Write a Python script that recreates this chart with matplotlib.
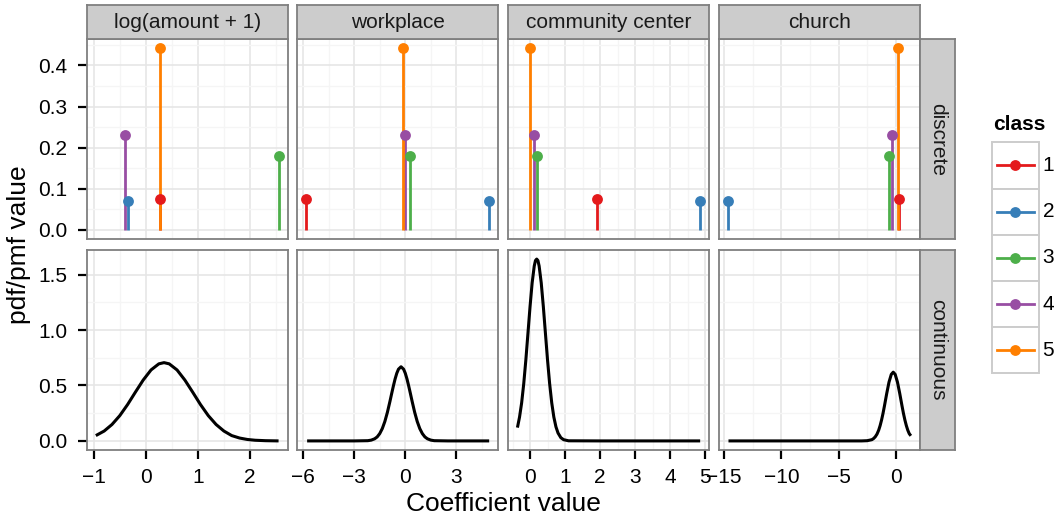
import numpy as np
import matplotlib.pyplot as plt
from matplotlib.patches import Rectangle
from matplotlib.lines import Line2D
from matplotlib.ticker import FixedLocator

plt.rcParams['font.family'] = ['Liberation Sans', 'DejaVu Sans']

W, H = 1056, 521

# ---- data ----
variables = ["log(amount + 1)", "workplace", "community center", "church"]
row_names = ["discrete", "continuous"]
classes = ["1", "2", "3", "4", "5"]
class_colors = ["#E41A1C", "#377EB8", "#4DAF4A", "#984EA3", "#FF7F00"]

# pmf value of each class (same in every column)
class_prob = [0.074, 0.070, 0.180, 0.230, 0.442]

# coefficient of each class, per variable (class 1..5)
loc_amount = [0.28, -0.34, 2.55, -0.40, 0.28]
loc_workplace = [-5.80, 4.92, 0.26, -0.02, -0.15]
loc_community = [1.91, 4.86, 0.20, 0.11, 0.00]
loc_church = [0.24, -14.65, -0.58, -0.35, 0.15]

# continuous pdf curves
cx_amount = [-0.96, -0.8, -0.65, -0.5, -0.35, -0.2, -0.05, 0.1, 0.25, 0.35, 0.45,
             0.6, 0.75, 0.9, 1.05, 1.2, 1.35, 1.5, 1.65, 1.8, 1.95, 2.1, 2.3, 2.55]
cy_amount = [0.048, 0.089, 0.148, 0.228, 0.328, 0.440, 0.549, 0.640, 0.695, 0.706, 0.695,
             0.640, 0.549, 0.440, 0.328, 0.228, 0.148, 0.089, 0.048, 0.026, 0.013, 0.006, 0.002, 0.0]

cx_workplace = [-5.76, -3.0, -2.2, -2.0, -1.8, -1.65, -1.5, -1.35, -1.2, -1.05, -0.9, -0.8,
                -0.7, -0.6, -0.5, -0.4, -0.25, -0.1, 0.0, 0.1, 0.2, 0.3, 0.4, 0.55, 0.7,
                0.85, 1.0, 1.15, 1.3, 1.5, 1.7, 2.5, 4.92]
cy_workplace = [0.0, 0.0, 0.002, 0.007, 0.019, 0.036, 0.066, 0.111, 0.175, 0.258, 0.357, 0.427,
                0.495, 0.558, 0.610, 0.647, 0.669, 0.647, 0.610, 0.558, 0.495, 0.427, 0.357, 0.258, 0.175,
                0.111, 0.066, 0.036, 0.019, 0.007, 0.002, 0.0, 0.0]

cx_community = [-0.36, -0.3, -0.24, -0.18, -0.12, -0.06, 0.0, 0.06, 0.12, 0.155, 0.19, 0.225,
                0.26, 0.32, 0.38, 0.44, 0.5, 0.56, 0.62, 0.68, 0.74, 0.8, 0.88, 0.96, 1.1, 2.0, 4.86]
cy_community = [0.12, 0.215, 0.343, 0.516, 0.729, 0.969, 1.211, 1.425, 1.577, 1.627, 1.64, 1.627,
                1.577, 1.425, 1.211, 0.969, 0.729, 0.516, 0.343, 0.215, 0.127, 0.071, 0.029, 0.011, 0.001, 0.0, 0.0]

cx_church = [-14.62, -3.0, -2.5, -2.1, -1.95, -1.8, -1.65, -1.5, -1.375, -1.25, -1.125, -1.0,
             -0.8, -0.6, -0.4, -0.23, -0.06, 0.14, 0.34, 0.54, 0.665, 0.79, 0.915, 1.04, 1.17, 1.31]
cy_church = [0.0, 0.0, 0.002, 0.011, 0.021, 0.037, 0.061, 0.097, 0.138, 0.188, 0.247, 0.314,
             0.427, 0.530, 0.600, 0.620, 0.600, 0.530, 0.427, 0.314, 0.247, 0.188, 0.138, 0.097, 0.065, 0.046]

# axis breaks
xticks_amount = [-1, 0, 1, 2]
xticks_workplace = [-6, -3, 0, 3]
xticks_community = [0, 1, 2, 3, 4, 5]
xticks_church = [-15, -10, -5, 0]
yticks_discrete = [0.0, 0.1, 0.2, 0.3, 0.4]
yticks_continuous = [0.0, 0.5, 1.0, 1.5]

locs = [loc_amount, loc_workplace, loc_community, loc_church]
curves_x = [cx_amount, cx_workplace, cx_community, cx_church]
curves_y = [cy_amount, cy_workplace, cy_community, cy_church]
xticks = [xticks_amount, xticks_workplace, xticks_community, xticks_church]
yticks = [yticks_discrete, yticks_continuous]


def expand(lo, hi, f=0.05):
    r = hi - lo
    return lo - f * r, hi + f * r


def minor_breaks(major, lims):
    step = major[1] - major[0]
    cand = [major[0] - step / 2] + [t + step / 2 for t in major]
    return [c for c in cand if lims[0] <= c <= lims[1]]


fig = plt.figure(figsize=(W / 100, H / 100), dpi=100)


def px_rect(x0, y0, x1, y1):
    return [x0 / W, 1 - y1 / H, (x1 - x0) / W, (y1 - y0) / H]


col_left = [86.7, 297.3, 508.3, 719.0]
col_w = 201.0
row_top = [39.0, 250.0]
row_h = 200.0
border = '#7F7F7F'
text_size = 15

ylims = [expand(0, max(class_prob)), expand(0, max(max(c) for c in curves_y))]

for r in range(2):
    for c in range(4):
        x0 = col_left[c]
        y0 = row_top[r]
        ax = fig.add_axes(px_rect(x0, y0, x0 + col_w, y0 + row_h))
        allx = list(locs[c]) + list(curves_x[c])
        xl = expand(min(allx), max(allx))
        ax.set_xlim(xl)
        ax.set_ylim(ylims[r])

        if r == 0:
            # segments first, then points (like the layered original)
            for i in range(5):
                ax.vlines(locs[c][i], 0, class_prob[i], color=class_colors[i], lw=2.0, zorder=3)
            for i in range(5):
                ax.plot(locs[c][i], class_prob[i], 'o', color=class_colors[i], ms=7.8,
                        mec='none', zorder=4, clip_on=False)
        else:
            ax.plot(curves_x[c], curves_y[c], color='black', lw=2.2, zorder=3,
                    solid_capstyle='butt')

        ax.xaxis.set_major_locator(FixedLocator(xticks[c]))
        ax.xaxis.set_minor_locator(FixedLocator(minor_breaks(xticks[c], xl)))
        ax.yaxis.set_major_locator(FixedLocator(yticks[r]))
        ax.yaxis.set_minor_locator(FixedLocator(minor_breaks(yticks[r], ylims[r])))
        ax.grid(which='major', color='#E6E6E6', lw=1.2, zorder=0)
        ax.grid(which='minor', color='#F5F5F5', lw=1.0, zorder=0)
        ax.set_axisbelow(True)
        for s in ax.spines.values():
            s.set_color(border)
            s.set_linewidth(1.3)
            s.set_zorder(5)

        ax.tick_params(which='major', direction='out', length=6.8, width=1.6,
                       color='black', labelsize=text_size, labelcolor='black')
        ax.tick_params(axis='x', which='major', pad=6.5)
        ax.tick_params(axis='y', which='major', pad=7)
        ax.tick_params(which='minor', length=0)

        if r == 1:
            ax.set_xticklabels([str(t).replace('-', '\u2212') for t in xticks[c]])
        else:
            ax.tick_params(axis='x', which='major', length=0, labelbottom=False)
        if c == 0:
            ax.set_yticklabels([f"{t:.1f}" for t in yticks[r]])
        else:
            ax.tick_params(axis='y', which='major', length=0, labelleft=False)

# column strips
for c in range(4):
    sx = fig.add_axes(px_rect(col_left[c], 4.7, col_left[c] + col_w, row_top[0]))
    sx.set_facecolor('#CCCCCC')
    sx.set_xticks([])
    sx.set_yticks([])
    for s in sx.spines.values():
        s.set_color(border)
        s.set_linewidth(1.3)
    sx.text(0.5, 0.47, variables[c], ha='center', va='center', fontsize=text_size,
            color='#1A1A1A', transform=sx.transAxes)

# row strips
for r in range(2):
    sy = fig.add_axes(px_rect(col_left[3] + col_w, row_top[r], col_left[3] + col_w + 35, row_top[r] + row_h))
    sy.set_facecolor('#CCCCCC')
    sy.set_xticks([])
    sy.set_yticks([])
    for s in sy.spines.values():
        s.set_color(border)
        s.set_linewidth(1.3)
    sy.text(0.5, 0.5, row_names[r], ha='center', va='center', rotation=-90,
            fontsize=text_size, color='#1A1A1A', transform=sy.transAxes)

# axis titles
fig.text((col_left[0] + col_left[3] + col_w) / 2 / W, 1 - 504 / H, "Coefficient value",
         ha='center', va='center', fontsize=19)
fig.text(19.5 / W, 1 - 244.5 / H, "pdf/pmf value", ha='center', va='center',
         rotation=90, fontsize=19)

# legend
lg = fig.add_axes([0, 0, 1, 1])
lg.set_xlim(0, W)
lg.set_ylim(H, 0)
lg.axis('off')
lg.text(993, 124, "class", ha='left', va='center', fontsize=text_size, fontweight='bold')
key_x, key_top, key_size = 992.3, 142.3, 46.2
for i, name in enumerate(classes):
    ty = key_top + i * key_size
    lg.add_patch(Rectangle((key_x, ty), key_size, key_size, facecolor='white',
                           edgecolor='#CCCCCC', lw=1.4))
    cy = ty + key_size / 2
    lg.add_line(Line2D([key_x + 4.5, key_x + key_size - 4.5], [cy, cy], color=class_colors[i], lw=2.0))
    lg.plot(key_x + key_size / 2, cy, 'o', color=class_colors[i], ms=7.8, mec='none')
    lg.text(key_x + key_size + 4, cy, name, ha='left', va='center', fontsize=text_size)

fig.savefig('out.png', dpi=100)
